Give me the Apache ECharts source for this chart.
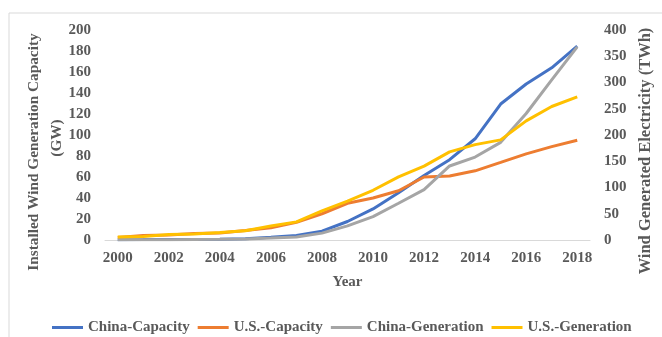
<!DOCTYPE html>
<html>
  <head>
    <meta charset="utf-8">
    <title>Wind capacity and generation</title>
    <style>
      html, body { margin: 0; padding: 0; background: #fff; }
    </style>
  </head>
  <body>
    <div id="main" style="width: 662px;height:337px;"></div>
  </body>
  <script type="text/javascript" src="https://cdn.jsdelivr.net/npm/echarts@6/dist/echarts.min.js"></script>
  <script type="text/javascript">
      // data
      var years = ['2000','2001','2002','2003','2004','2005','2006','2007','2008','2009',
                   '2010','2011','2012','2013','2014','2015','2016','2017','2018'];
      // GW, left axis
      var chinaCapacity = [0.34, 0.38, 0.47, 0.57, 0.76, 1.26, 2.6, 4.2, 8.4, 17.6,
                           29.6, 45, 61.4, 76.5, 96.4, 129.5, 148.6, 164, 184.6];
      var usCapacity = [2.5, 4.2, 4.7, 6.2, 6.7, 9.1, 11.6, 16.8, 25, 35,
                        40, 46.9, 60, 61, 65.9, 73.9, 82, 88.9, 95];
      // TWh, right axis
      var chinaGeneration = [0.6, 0.6, 0.7, 1, 1.3, 2, 3.7, 5.6, 13.1, 26.9,
                             44.6, 70, 96, 141, 158, 186, 241, 305, 368];
      var usGeneration = [5.6, 6.7, 10.4, 11.2, 14.1, 17.8, 26.6, 34.5, 55.4, 73.9,
                          94.7, 120.2, 140.8, 167.8, 181.7, 190.7, 226.9, 254.3, 272.7];

      var font = '"Liberation Serif", "Times New Roman", serif';
      var grey = '#595959';

      var myChart = echarts.init(document.getElementById('main'));

      function line(name, data, color, yIdx) {
          return {
              name: name,
              type: 'line',
              yAxisIndex: yIdx,
              data: data,
              symbol: 'none',
              lineStyle: { width: 3, color: color },
              itemStyle: { color: color },
              animation: false
          };
      }

      myChart.setOption({
          animation: false,
          graphic: [{
              type: 'rect',
              shape: { x: 9, y: 13, width: 700, height: 400 },
              style: { fill: 'none', stroke: '#d9d9d9', lineWidth: 1 },
              silent: true
          }],
          grid: { left: 105, right: 72, top: 30, bottom: 97, outerBoundsMode: 'none' },
          legend: {
              bottom: 2,
              left: 52,
              padding: 0,
              icon: 'rect',
              itemWidth: 31,
              itemHeight: 3,
              itemGap: 8,
              textStyle: { fontFamily: font, fontWeight: 'bold', fontSize: 15, color: grey },
              data: ['China-Capacity', 'U.S.-Capacity', 'China-Generation', 'U.S.-Generation']
          },
          xAxis: {
              type: 'category',
              data: years,
              boundaryGap: true,
              name: 'Year',
              nameLocation: 'middle',
              nameGap: 35,
              nameTextStyle: { fontFamily: font, fontWeight: 'bold', fontSize: 15, color: grey },
              axisLine: { lineStyle: { color: '#d9d9d9' } },
              axisTick: { show: false },
              axisLabel: { interval: 1, margin: 11, fontFamily: font, fontWeight: 'bold', fontSize: 15, color: grey },
              splitLine: { show: false }
          },
          yAxis: [{
              type: 'value',
              min: 0, max: 200, interval: 20,
              name: '{a|Installed Wind Generation Capacity}\n{b|(GW)}',
              nameLocation: 'middle',
              nameRotate: 90,
              nameGap: 36,
              nameMoveOverlap: false,
              nameTextStyle: {
                  fontFamily: font, fontWeight: 'bold', fontSize: 15, color: grey, lineHeight: 23,
                  rich: {
                      a: { fontFamily: font, fontWeight: 'bold', fontSize: 15.3, color: grey, lineHeight: 23, padding: [0, 34, 0, 0] },
                      b: { fontFamily: font, fontWeight: 'bold', fontSize: 15.3, color: grey, lineHeight: 23, padding: [0, 6, 0, 0] }
                  }
              },
              axisLine: { show: false },
              axisTick: { show: false },
              splitLine: { show: false },
              axisLabel: { margin: 14, fontFamily: font, fontWeight: 'bold', fontSize: 15, color: grey }
          }, {
              type: 'value',
              min: 0, max: 400, interval: 50,
              name: 'Wind Generated Electricity (TWh)',
              nameLocation: 'middle',
              nameRotate: 90,
              nameGap: 46,
              nameTextStyle: { fontFamily: font, fontWeight: 'bold', fontSize: 16.5, color: grey, padding: [0, 32, 0, 0] },
              axisLine: { show: false },
              axisTick: { show: false },
              splitLine: { show: false },
              axisLabel: { margin: 14, fontFamily: font, fontWeight: 'bold', fontSize: 15, color: grey }
          }],
          series: [
              line('China-Capacity', chinaCapacity, '#4472C4', 0),
              line('U.S.-Capacity', usCapacity, '#ED7D31', 0),
              line('China-Generation', chinaGeneration, '#A5A5A5', 1),
              line('U.S.-Generation', usGeneration, '#FFC000', 1)
          ]
      });
  </script>
</html>
